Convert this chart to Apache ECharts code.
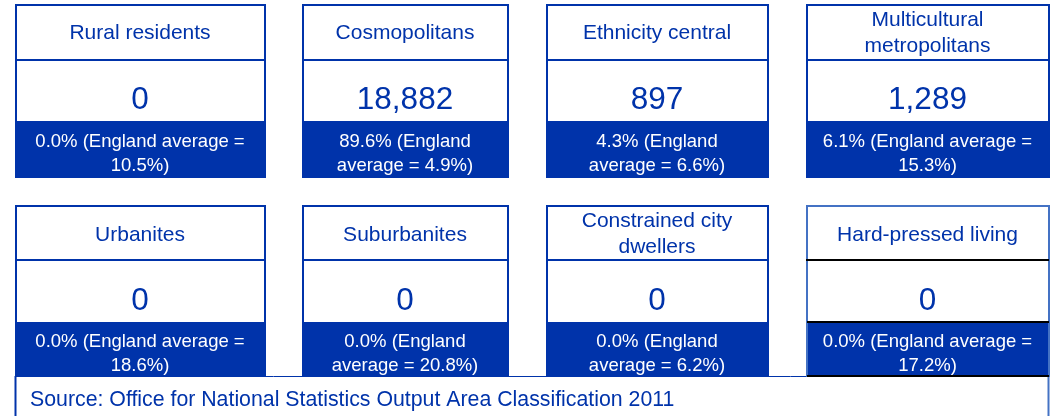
<!DOCTYPE html>
<html>
<head>
<meta charset="utf-8">
<script src="https://cdn.jsdelivr.net/npm/echarts@6/dist/echarts.min.js"></script>
<style>html,body{margin:0;padding:0;background:#fff}#c{width:1051px;height:416px}</style>
</head>
<body>
<div id="c"></div>
<script>
// ---- data ----
const groups = ['Rural residents', 'Cosmopolitans', 'Ethnicity central', 'Multicultural\nmetropolitans',
                'Urbanites', 'Suburbanites', 'Constrained city\ndwellers', 'Hard-pressed living'];
const counts = [0, 18882, 897, 1289, 0, 0, 0, 0];
const sharePct = [0.0, 89.6, 4.3, 6.1, 0.0, 0.0, 0.0, 0.0];
const englandAvgPct = [10.5, 4.9, 6.6, 15.3, 18.6, 20.8, 6.2, 17.2];
const sourceNote = 'Source: Office for National Statistics Output Area Classification 2011';

// ---- layout / style ----
const BLUE = '#0033aa';
const LIGHT = '#4472c4';
const FONT = '"Liberation Sans", Arial, sans-serif';
const colLeft = [15, 302, 546, 806];
const colRight = [265, 508, 768, 1049];
const rowTop = [4, 205];
const rowDiv = [60, 260];
const rowBand = [121, 322];
const rowBottom = [177, 376];
const wideWrap = [true, false, false, true, true, false, false, true];
const specialCard = 7;

function bandText(i) {
  const p = sharePct[i].toFixed(1) + '%';
  const a = englandAvgPct[i].toFixed(1) + '%';
  return wideWrap[i] ? p + ' (England average =\n' + a + ')' : p + ' (England\naverage = ' + a + ')';
}

const els = [];
// source box
els.push({type: 'line', shape: {x1: 15, y1: 376.5, x2: 1049, y2: 376.5}, style: {stroke: BLUE, lineWidth: 1}, z: 1});
els.push({type: 'line', shape: {x1: 15.5, y1: 376, x2: 15.5, y2: 420}, style: {stroke: BLUE, lineWidth: 2}, z: 1});
els.push({type: 'line', shape: {x1: 1048.5, y1: 376, x2: 1048.5, y2: 420}, style: {stroke: LIGHT, lineWidth: 2}, z: 1});
els.push({type: 'text', x: 30, y: 400, style: {text: sourceNote, font: '21.3px ' + FONT, fill: BLUE, verticalAlign: 'middle'}, z: 5});

groups.forEach((g, i) => {
  const c = i % 4, r = Math.floor(i / 4);
  const x0 = colLeft[c], x1 = colRight[c], w = x1 - x0, cx = (x0 + x1) / 2;
  const t = rowTop[r], d = rowDiv[r], b = rowBand[r], bot = rowBottom[r];
  const special = i === specialCard;
  els.push({type: 'rect', shape: {x: x0, y: t, width: w, height: bot - t}, style: {fill: '#fff', stroke: null}, z: 2});
  els.push({type: 'rect', shape: {x: x0, y: b, width: w, height: bot - b}, style: {fill: BLUE}, z: 3});
  els.push({type: 'rect', shape: {x: x0 + 1, y: t + 1, width: w - 1, height: bot - t - 1}, style: {fill: null, stroke: special ? LIGHT : BLUE, lineWidth: 2}, z: 4});
  els.push({type: 'line', shape: {x1: x0, y1: d, x2: x1, y2: d}, style: {stroke: special ? '#000' : BLUE, lineWidth: 2}, z: 4});
  if (special) {
    els.push({type: 'line', shape: {x1: x0 + 1, y1: b, x2: x1, y2: b}, style: {stroke: '#000', lineWidth: 2}, z: 4});
    els.push({type: 'line', shape: {x1: x0 + 1, y1: bot, x2: x1, y2: bot}, style: {stroke: '#000', lineWidth: 2}, z: 4});
  }
  const titleY = (t + d) / 2 + 1 + (g.indexOf('\n') < 0 ? r * 1.5 : 0.5);
  els.push({type: 'text', x: cx, y: titleY, style: {text: g, font: '21px ' + FONT, fill: BLUE, align: 'center', verticalAlign: 'middle', lineHeight: 26}, z: 5});
  els.push({type: 'text', x: cx, y: b - 20.5, style: {text: counts[i].toLocaleString('en-GB'), font: '31.5px ' + FONT, fill: BLUE, align: 'center', verticalAlign: 'middle'}, z: 5});
  els.push({type: 'text', x: cx, y: (b + bot) / 2 + 5, style: {text: bandText(i), font: '18.5px ' + FONT, fill: '#fff', align: 'center', verticalAlign: 'middle', lineHeight: 24}, z: 5});
});

const chart = echarts.init(document.getElementById('c'), null, {renderer: 'canvas'});
chart.setOption({animation: false, graphic: {elements: els}});
</script>
</body>
</html>
